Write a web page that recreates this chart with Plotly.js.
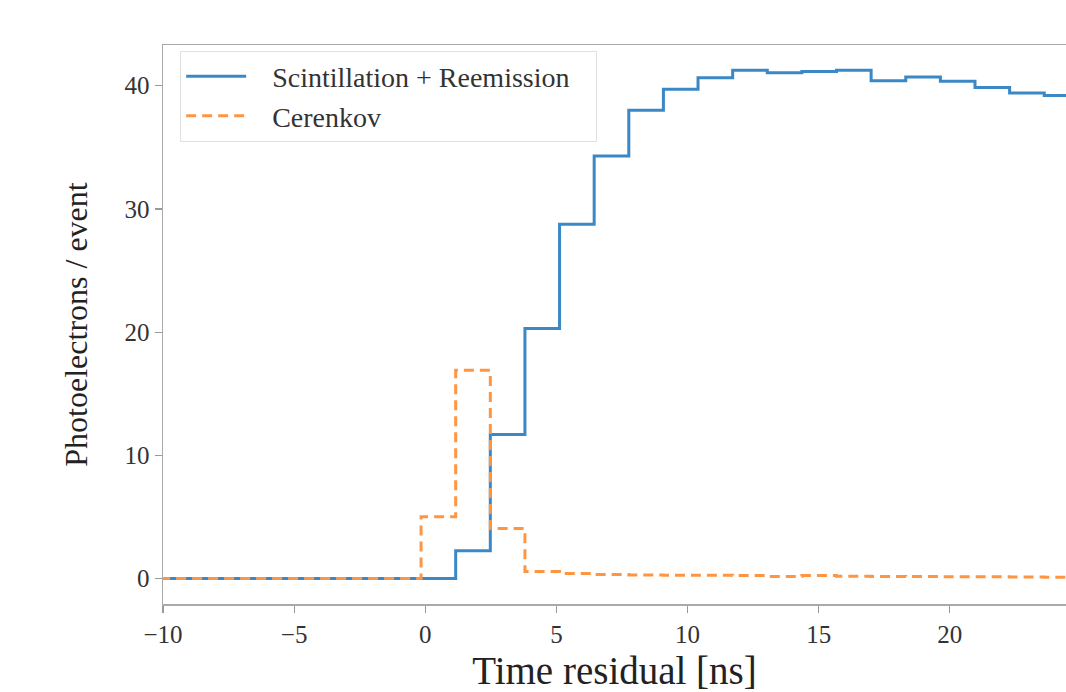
<!DOCTYPE html>
<html>
<head>
<meta charset="utf-8">
<script src="https://cdn.plot.ly/plotly-3.0.1.min.js"></script>
<style>
  html, body { margin: 0; padding: 0; background: #ffffff; }
  #chart { width: 1066px; height: 692px; }
</style>
</head>
<body>
<div id="chart"></div>
<script>
// Histogram bin edges (ns)
var binEdges = [-10.72, -9.40, -8.08, -6.76, -5.44, -4.12, -2.80, -1.48, -0.16,
                1.16, 2.48, 3.80, 5.12, 6.44, 7.76, 9.08, 10.40, 11.72, 13.04,
                14.36, 15.68, 17.00, 18.32, 19.64, 20.96, 22.28, 23.60, 24.92];

// Photoelectrons / event per bin
var scintValues = [0, 0, 0, 0, 0, 0, 0, 0, 0,
                   2.27, 11.69, 20.3, 28.75, 34.3, 38.0, 39.7, 40.65, 41.25,
                   41.05, 41.15, 41.25, 40.4, 40.7, 40.35, 39.85, 39.4, 39.2];

var cerenkovValues = [0, 0, 0, 0, 0, 0, 0, 0,
                      5.03, 16.9, 4.06, 0.57, 0.42, 0.33, 0.30, 0.28, 0.27, 0.25,
                      0.18, 0.25, 0.20, 0.18, 0.17, 0.15, 0.15, 0.14, 0.12];

var seriesNames = ["Scintillation + Reemission", "Cerenkov"];
var xTicks = [-10, -5, 0, 5, 10, 15, 20];
var yTicks = [0, 10, 20, 30, 40];

function stepY(vals) {
  return vals.concat([vals[vals.length - 1]]);
}

var SERIF = "Liberation Serif";
var pad = "\u00a0\u00a0\u00a0";
var tail = "\u00a0\u00a0\u00a0";

var traces = [
  {
    x: binEdges, y: stepY(scintValues), name: pad + seriesNames[0] + tail,
    type: "scatter", mode: "lines",
    line: { shape: "hv", color: "#3a88c6", width: 3 }
  },
  {
    x: binEdges, y: stepY(cerenkovValues), name: pad + seriesNames[1],
    type: "scatter", mode: "lines",
    line: { shape: "hv", color: "#ff9540", width: 3, dash: "10px,6px" }
  }
];

var tickFont = { family: SERIF, size: 25, color: "#333333" };

var layout = {
  width: 1066, height: 692,
  font: { family: SERIF },
  margin: { l: 163, r: 0, t: 45, b: 88, pad: 0 },
  paper_bgcolor: "#ffffff",
  plot_bgcolor: "#ffffff",
  showlegend: true,
  legend: {
    x: 0.019, y: 0.99, xanchor: "left", yanchor: "top",
    bgcolor: "rgba(255,255,255,0.9)",
    bordercolor: "#e0e0e0", borderwidth: 1,
    font: { family: SERIF, size: 28, color: "#333333" },
    itemwidth: 60
  },
  xaxis: {
    range: [-10, 24.43],
    tickmode: "array", tickvals: xTicks,
    ticktext: xTicks.map(function (v) { return v < 0 ? "\u2212" + Math.abs(v) : String(v); }),
    ticks: "outside", ticklen: 7, tickwidth: 1.2, tickcolor: "#999999",
    showline: true, linecolor: "#aaaaaa", linewidth: 1.5, mirror: true,
    showgrid: false, zeroline: false,
    tickfont: tickFont,
    title: { text: "Time residual [ns]", standoff: 11,
             font: { family: SERIF, size: 39, color: "#222222" } }
  },
  yaxis: {
    range: [-2.06, 43.3],
    tickmode: "array", tickvals: yTicks,
    ticks: "outside", ticklen: 7, tickwidth: 1.2, tickcolor: "#999999",
    showline: true, linecolor: "#aaaaaa", linewidth: 1.5, mirror: true,
    showgrid: false, zeroline: false,
    tickfont: tickFont,
    title: { text: "Photoelectrons / event", standoff: 27,
             font: { family: SERIF, size: 32, color: "#222222" } }
  }
};

Plotly.newPlot("chart", traces, layout, { displayModeBar: false, staticPlot: true });
</script>
</body>
</html>
